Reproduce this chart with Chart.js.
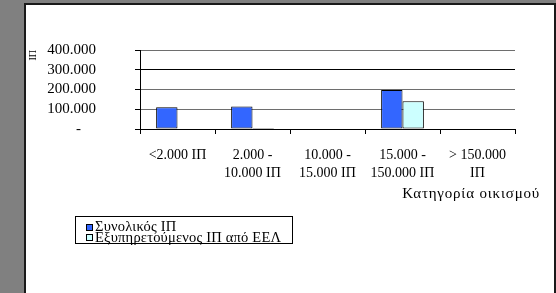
<!DOCTYPE html>
<html>
<head>
<meta charset="utf-8">
<script src="https://cdn.jsdelivr.net/npm/chart.js@4.4.1/dist/chart.umd.min.js"></script>
<style>
  html, body { margin: 0; padding: 0; }
  body { width: 556px; height: 293px; background: #808080; position: relative; overflow: hidden; }
  #page { position: absolute; left: 24px; top: 3px; width: 528px; height: 300px; background: #fff;
          border-left: 2px solid #1a1a1a; border-top: 2px solid #1a1a1a; border-right: 2px solid #1a1a1a; }
  #c { position: absolute; left: 0; top: 0; }
</style>
</head>
<body>
<div id="page"></div>
<canvas id="c" width="556" height="293"></canvas>
<script>
// ---- data ----
const categories = [
  ['<2.000 ΙΠ'],
  ['2.000 -', '10.000 ΙΠ'],
  ['10.000 -', '15.000 ΙΠ'],
  ['15.000 -', '150.000 ΙΠ'],
  ['> 150.000', 'ΙΠ']
];
const seriesNames = ['Συνολικός ΙΠ', 'Εξυπηρετούμενος ΙΠ από ΕΕΛ'];
const totalPE = [110000, 114000, 0, 197000, 0];
const servedPE = [0, 5000, 0, 141000, 0];
const yTickLabels = ['-', '100.000', '200.000', '300.000', '400.000'];
const yAxisTitle = 'ΙΠ';
const xAxisTitle = 'Κατηγορία οικισμού';

const FONT = "'Liberation Serif', 'Times New Roman', serif";
const colors = ['#3366FF', '#CCFFFF'];

const customText = {
  id: 'customText',
  afterDraw(chart) {
    const ctx = chart.ctx;
    ctx.save();
    // x axis title
    ctx.font = '15px ' + FONT;
    ctx.fillStyle = '#000';
    ctx.textAlign = 'right';
    ctx.textBaseline = 'middle';
    if ('letterSpacing' in ctx) ctx.letterSpacing = '0.8px';
    ctx.fillText(xAxisTitle, 540, 194);
    // legend box
    ctx.font = '14.5px ' + FONT;
    if ('letterSpacing' in ctx) ctx.letterSpacing = '0.2px';
    ctx.strokeStyle = '#000';
    ctx.lineWidth = 1;
    ctx.strokeRect(75.5, 216.5, 217, 27);
    ctx.textAlign = 'left';
    chart.data.datasets.forEach((ds, i) => {
      const cy = 227.5 + i * 10.5;
      const sy = Math.round(cy - 4);
      ctx.fillStyle = ds.backgroundColor;
      ctx.fillRect(86, sy, 7, 7);
      ctx.strokeStyle = '#000';
      ctx.strokeRect(86.5, sy + 0.5, 6, 6);
      ctx.fillStyle = '#000';
      ctx.fillText(ds.label, 95, cy);
    });
    ctx.restore();
  }
};

new Chart(document.getElementById('c'), {
  type: 'bar',
  data: {
    labels: categories,
    datasets: [
      { label: seriesNames[0], data: totalPE, backgroundColor: colors[0] },
      { label: seriesNames[1], data: servedPE, backgroundColor: colors[1] }
    ]
  },
  options: {
    responsive: false,
    animation: false,
    devicePixelRatio: 1,
    layout: { padding: { top: 50, right: 41, bottom: 0, left: 0 } },
    datasets: {
      bar: {
        borderColor: '#000',
        borderWidth: 1,
        borderSkipped: false,
        categoryPercentage: 0.57,
        barPercentage: 1.0
      }
    },
    plugins: { legend: { display: false }, tooltip: { enabled: false } },
    scales: {
      x: {
        afterFit(s) { s.height = 164; },
        grid: {
          offset: true,
          drawOnChartArea: true,
          color: (c) => (c.index === categories.length ? '#808080' : 'rgba(0,0,0,0)'),
          tickColor: '#000',
          tickLength: 5
        },
        border: { display: true, color: '#000' },
        ticks: {
          color: '#000',
          padding: 12,
          maxRotation: 0,
          autoSkip: false,
          font: { family: FONT, size: 14, lineHeight: 1.3 }
        }
      },
      y: {
        min: 0,
        max: 400000,
        afterFit(s) { s.width = 140; },
        title: {
          display: true,
          text: yAxisTitle,
          align: 'end',
          color: '#000',
          font: { family: FONT, size: 10, lineHeight: 1 },
          padding: { top: 28, bottom: 0 }
        },
        grid: {
          color: (c) => (c.tick && (c.tick.value === 300000 || c.tick.value === 0) ? '#000' : '#6e6e6e'),
          tickColor: '#000',
          tickLength: 5
        },
        border: { display: true, color: '#000' },
        ticks: {
          stepSize: 100000,
          autoSkip: false,
          color: '#000',
          padding: 39,
          font: { family: FONT, size: 15 },
          callback: (v, i) => {
            const lbl = yTickLabels[i];
            return lbl === '-' ? lbl + '\u2007\u2007' : lbl;
          }
        }
      }
    }
  },
  plugins: [customText]
});
</script>
</body>
</html>
